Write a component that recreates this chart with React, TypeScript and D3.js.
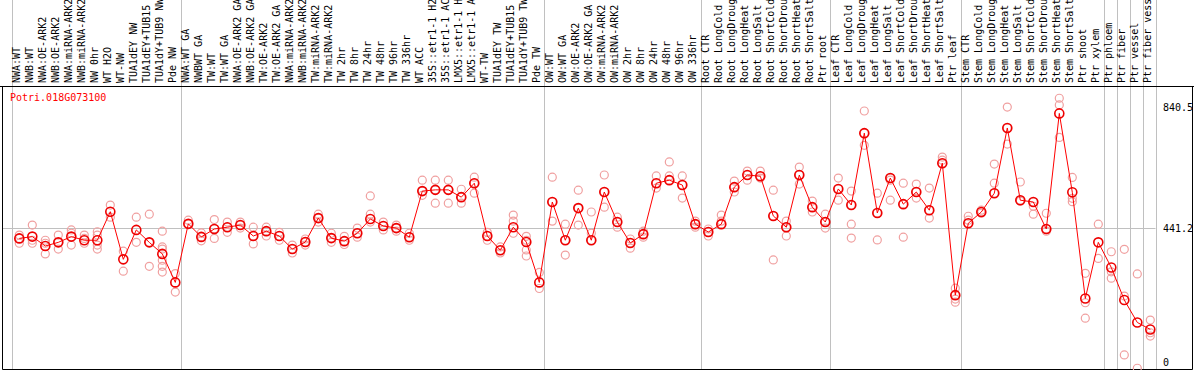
import React, { useEffect, useRef } from 'react';
import * as d3 from 'd3';

const title = 'Potri.018G073100';

const labels = [
  'NWA:WT', 'NWB:WT', 'NWA:OE-ARK2', 'NWB:OE-ARK2', 'NWA:miRNA-ARK2', 'NWB:miRNA-ARK2', 'NW 0hr', 'WT H2O', 'WT-NW',
  'TUA1dEY NW', 'TUA1dEY+TUB15 NW', 'TUA1dY+TUB9 NW', 'Pde NW',
  'NWA:WT GA', 'NWBWT GA', 'TW:WT', 'TW:WT GA', 'NWA:OE-ARK2 GA', 'NWB:OE-ARK2 GA', 'TW:OE-ARK2', 'TW:OE-ARK2 GA',
  'NWA:miRNA-ARK2 GA', 'NWB:miRNA-ARK2 GA', 'TW:miRNA-ARK2', 'TW:miRNA-ARK2 GA', 'TW 2hr', 'TW 8hr', 'TW 24hr', 'TW 48hr',
  'TW 96hr', 'TW 336hr', 'WT ACC', '35S::etr1-1 H2O', '35S::etr1-1 ACC', 'LMX5::etr1-1 H2O', 'LMX5::etr1-1 ACC', 'WT-TW',
  'TUA1dEY TW', 'TUA1dEY+TUB15 TW', 'TUA1dY+TUB9 TW', 'Pde TW',
  'OW:WT', 'OW:WT GA', 'OW:OE-ARK2', 'OW:OE-ARK2 GA', 'OW:miRNA-ARK2', 'OW:miRNA-ARK2 GA', 'OW 2hr', 'OW 8hr', 'OW 24hr',
  'OW 48hr', 'OW 96hr', 'OW 336hr',
  'Root CTR', 'Root LongCold', 'Root LongDrought', 'Root LongHeat', 'Root LongSalt', 'Root ShortCold', 'Root ShortDrought',
  'Root ShortHeat', 'Root ShortSalt', 'Ptr root',
  'Leaf CTR', 'Leaf LongCold', 'Leaf LongDrought', 'Leaf LongHeat', 'Leaf LongSalt', 'Leaf ShortCold', 'Leaf ShortDrought',
  'Leaf ShortHeat', 'Leaf ShortSalt', 'Ptr leaf',
  'Stem CTR', 'Stem LongCold', 'Stem LongDrought', 'Stem LongHeat', 'Stem LongSalt', 'Stem ShortCold', 'Stem ShortDrought',
  'Stem ShortHeat', 'Stem ShortSalt', 'Ptr shoot', 'Ptr xylem',
  'Ptr phloem', 'Ptr fiber', 'Ptr vessel', 'Ptr fiber vessel',
];

// mean expression per sample
const means = [
  408, 414, 383, 395, 414, 402, 402, 496, 339, 436, 395, 357, 263,
  456, 413, 439, 445, 452, 416, 432, 416, 373, 396, 475, 409, 399, 425, 472, 449, 442, 412, 564, 568, 568, 544, 590, 416,
  369, 445, 396, 263,
  528, 402, 508, 402, 561, 462, 393, 422, 590, 600, 584, 455,
  429, 455, 577, 617, 613, 482, 445, 617, 511, 462,
  571, 518, 755, 492, 607, 521, 561, 501, 656, 221,
  458, 495, 557, 772, 534, 528, 439, 820, 560, 210, 395,
  312, 205, 131, 108,
];

// replicate values per sample
const reps = [
  [419, 408, 392], [452, 402, 392], [402, 392, 357], [419, 395, 373], [436, 425, 386], [419, 408, 392],
  [430, 419, 386, 373], [518, 478], [366, 300], [478, 395], [488, 395, 316], [432, 380, 373, 336, 316, 297],
  [292, 231],
  [468, 456], [426, 413, 400], [470, 440, 408], [462, 445, 428], [462, 452, 442], [445, 416, 390], [445, 432, 416],
  [428, 416, 402], [386, 373, 360], [406, 396, 386], [488, 475, 462], [425, 409, 395], [415, 399, 388],
  [442, 425, 412], [548, 488, 462], [462, 449, 436], [452, 442, 432], [425, 412, 402], [600, 564, 550],
  [600, 568, 524], [600, 568, 524], [570, 544, 524], [610, 590, 557], [428, 416, 402], [380, 369, 360],
  [485, 465, 425], [415, 402, 370, 350], [296, 243],
  [610, 528, 465], [455, 402, 353], [567, 508, 452], [495, 425, 402], [617, 561, 511], [478, 462, 445],
  [406, 393, 376], [432, 422, 412], [614, 590, 574], [660, 600, 614], [614, 584, 541], [465, 455, 445],
  [439, 429, 416], [485, 465, 455], [597, 577, 561], [630, 617, 600], [630, 613, 607], [567, 482, 337],
  [465, 445, 416], [643, 617, 587], [531, 511, 495], [488, 462, 442],
  [607, 571, 534], [564, 518, 455, 409], [828, 755, 715], [557, 492, 403], [600, 607, 534], [590, 521, 412],
  [587, 561, 541], [574, 501, 475], [676, 656, 666], [244, 208, 198, 221],
  [481, 468, 458], [501, 495, 491], [653, 590, 557], [841, 772, 719], [594, 534, 531], [514, 488, 528],
  [491, 439, 432], [870, 848, 741], [609, 540, 529], [293, 196, 145], [455, 342],
  [364, 298, 277], [372, 218, 24], [291, -20], [139, 97, 86],
];

// first sample index of each group (last entry closes the final group)
const groupStarts = [0, 13, 41, 53, 63, 73, 84, 85, 86, 87, 88];

const tickValues = [840.5, 441.2, 0];
const tickLabels = ['840.5', '441.2', '0'];
const midLine = 441.2;

const W = 1194;
const H = 370;
const FONT = '"DejaVu Sans Mono", monospace';

export default function App() {
  const ref = useRef<SVGSVGElement | null>(null);

  useEffect(() => {
    if (!ref.current) return;
    const svg = d3.select(ref.current);
    svg.selectAll('*').remove();

    const headerY = 86.5;
    const bottomY = 369.5;
    const plotRight = 1155.5;

    const x = d3.scaleLinear().domain([0, means.length - 1]).range([19.3, 1150.3]);
    const y = d3.scaleLinear().domain([0, 840.5]).range([362.2, 107.2]);

    svg.append('rect').attr('width', W).attr('height', H).attr('fill', '#fff');

    // group separators
    svg.selectAll('.sep')
      .data(groupStarts)
      .enter().append('line')
      .attr('x1', d => Math.round(x(d - 0.6)) + 0.5)
      .attr('x2', d => Math.round(x(d - 0.6)) + 0.5)
      .attr('y1', 0)
      .attr('y2', bottomY)
      .attr('stroke', '#c0c0c0')
      .attr('stroke-width', 1);

    // mid reference line
    svg.append('line')
      .attr('x1', 2).attr('x2', plotRight)
      .attr('y1', Math.round(y(midLine)) + 0.5).attr('y2', Math.round(y(midLine)) + 0.5)
      .attr('stroke', '#c0c0c0');

    // frame
    svg.append('path')
      .attr('d', `M2.5,${headerY} L2.5,${bottomY} L1192.5,${bottomY} L1192.5,${headerY}`)
      .attr('fill', 'none').attr('stroke', '#000');
    svg.append('line')
      .attr('x1', 0).attr('x2', W).attr('y1', headerY).attr('y2', headerY)
      .attr('stroke', '#000');

    // sample labels
    svg.selectAll('.lbl')
      .data(labels)
      .enter().append('text')
      .attr('transform', (d, i) => `translate(${x(i) + 0.5},83) rotate(-90)`)
      .attr('font-family', FONT)
      .attr('font-size', 10)
      .attr('fill', '#000')
      .text(d => d);

    // title
    svg.append('text')
      .attr('x', 10).attr('y', 101)
      .attr('font-family', FONT).attr('font-size', 10)
      .attr('fill', '#ff0000')
      .text(title);

    // axis labels
    svg.selectAll('.tick')
      .data(tickValues)
      .enter().append('text')
      .attr('x', 1163)
      .attr('y', d => y(d) + 4)
      .attr('font-family', FONT).attr('font-size', 10)
      .attr('fill', '#000')
      .text((d, i) => tickLabels[i]);

    // replicates
    const repPts = reps.flatMap((r, i) => r.map(v => ({ i, v })));
    svg.selectAll('.rep')
      .data(repPts)
      .enter().append('circle')
      .attr('cx', d => x(d.i))
      .attr('cy', d => y(d.v))
      .attr('r', 4)
      .attr('fill', 'none')
      .attr('stroke', '#f0a0a0')
      .attr('stroke-width', 1.2);

    // mean line
    const line = d3.line<number>().x((d, i) => x(i)).y(d => y(d));
    svg.append('path')
      .datum(means)
      .attr('d', line)
      .attr('fill', 'none')
      .attr('stroke', '#ff0000')
      .attr('stroke-width', 1);

    svg.selectAll('.mean')
      .data(means)
      .enter().append('circle')
      .attr('cx', (d, i) => x(i))
      .attr('cy', d => y(d))
      .attr('r', 4.5)
      .attr('fill', 'none')
      .attr('stroke', '#ee0000')
      .attr('stroke-width', 1.6);
  }, []);

  return (
    <svg
      ref={ref}
      width={W}
      height={H}
      style={{ position: 'fixed', left: 0, top: 0, display: 'block' }}
    />
  );
}
